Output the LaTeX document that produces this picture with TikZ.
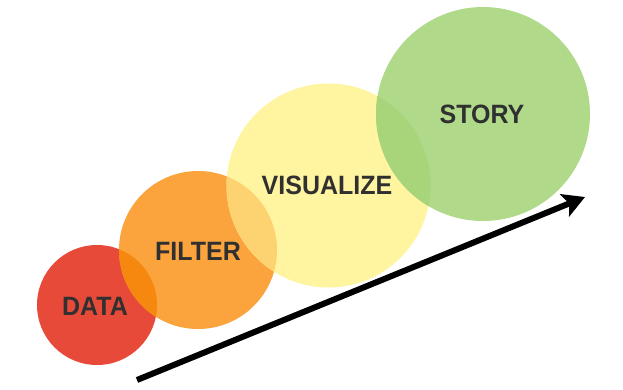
\documentclass[tikz,border=0pt]{standalone}
\usepackage{fontspec}
\newfontfamily\labfont{Liberation Sans}
\usetikzlibrary{arrows.meta}
\definecolor{cred}{HTML}{E84A3A}
\definecolor{corange}{HTML}{FBA33C}
\definecolor{cyellow}{HTML}{FFF5A0}
\definecolor{cgreen}{HTML}{B0D98A}
\definecolor{lensro}{HTML}{F6880F}
\definecolor{lensoy}{HTML}{FDD270}
\definecolor{lensyg}{HTML}{A8D47A}
\definecolor{ctext}{HTML}{303030}
\tikzset{
  bubble/.style={circle, inner sep=0pt, draw=none},
  lab/.style={font=\labfont\bfseries\fontsize{25}{30}\selectfont, text=ctext, inner sep=0pt, yscale=1.06},
}
\begin{document}
\begin{tikzpicture}[x=1pt,y=-1pt]
\useasboundingbox (0,0) rectangle (623,389);
\node[bubble, fill=cred, minimum size=120pt] (data) at (97,305) {};
\node[bubble, fill=corange, minimum size=158pt] (filter) at (198,250) {};
\node[bubble, fill=cyellow, minimum size=204pt] (visualize) at (328.5,185.5) {};
\node[bubble, fill=cgreen, minimum size=214pt] (story) at (483,114) {};
% overlaps
\begin{scope}
  \clip (data.center) circle [radius=60pt];
  \fill[lensro] (filter.center) circle [radius=79pt];
\end{scope}
\begin{scope}
  \clip (filter.center) circle [radius=79pt];
  \fill[lensoy] (visualize.center) circle [radius=102pt];
\end{scope}
\begin{scope}
  \clip (visualize.center) circle [radius=102pt];
  \fill[lensyg] (story.center) circle [radius=107pt];
\end{scope}
\node[lab] (datat) at (95,306) {DATA};
\node[lab] (filtert) at (198,251) {FILTER};
\node[lab] (visualizet) at (327,185) {VISUALIZE};
\node[lab] (storyt) at (482,114) {STORY};
\coordinate (astart) at (137,380);
\coordinate (aend) at (585,197);
\draw[line width=6pt, -{Stealth[length=22pt, width=24pt, inset=5pt]}] (astart) -- (aend);
\end{tikzpicture}
\end{document}
